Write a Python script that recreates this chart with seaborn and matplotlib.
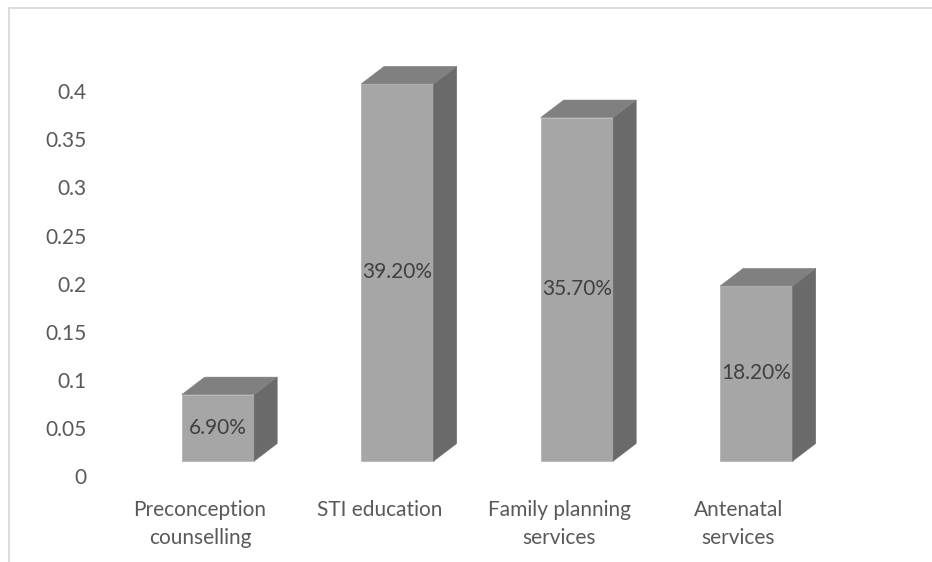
import matplotlib
matplotlib.use("Agg")
import matplotlib.pyplot as plt
from matplotlib.patches import Polygon
from matplotlib.lines import Line2D
import seaborn as sns
import pandas as pd

# Data
categories = ["Preconception\ncounselling", "STI education",
              "Family planning\nservices", "Antenatal\nservices"]
shares = [0.069, 0.392, 0.357, 0.182]
y_ticks = [0, 0.05, 0.1, 0.15, 0.2, 0.25, 0.3, 0.35, 0.4]
y_tick_labels = ["0", "0.05", "0.1", "0.15", "0.2", "0.25", "0.3", "0.35", "0.4"]

df = pd.DataFrame({"category": categories, "share": shares})

sns.set_style("white")
plt.rcParams["font.family"] = ["Lato", "DejaVu Sans"]

FRONT = "#a6a6a6"
TOP = "#808080"
SIDE = "#6a6a6a"
TEXT = "#595959"
FS = 15

fig = plt.figure(figsize=(9.32, 5.62), dpi=100)
ax = fig.add_axes([0.1183, 0.1530, 0.8089, 0.7703])

sns.barplot(data=df, x="category", y="share", color=FRONT, saturation=1,
            width=0.404, ax=ax, edgecolor="#b4b4b4", linewidth=0.6)

floor = 0.0156   # bars rest on a raised floor
dx = 0.128       # depth offset in category units
dy = 0.0182      # depth offset in data units

for patch, val in zip(ax.patches, shares):
    patch.set_y(floor)
    x0 = patch.get_x()
    x1 = x0 + patch.get_width()
    top = floor + val
    side = Polygon([(x1, floor), (x1, top), (x1 + dx, top + dy), (x1 + dx, floor + dy)],
                   closed=True, facecolor=SIDE, edgecolor=SIDE, linewidth=0.4, zorder=2)
    lid = Polygon([(x0, top), (x0 + dx, top + dy), (x1 + dx, top + dy), (x1, top)],
                  closed=True, facecolor=TOP, edgecolor=TOP, linewidth=0.4, zorder=2)
    ax.add_patch(side)
    ax.add_patch(lid)
    ax.text((x0 + x1) / 2, floor + val / 2, f"{val * 100:.2f}%",
            ha="center", va="center", fontsize=FS, color="#404040", zorder=3)

ax.set_xlim(-0.6, 3.6)
ax.set_ylim(0, 0.45)
ax.set_yticks(y_ticks)
ax.set_yticklabels(y_tick_labels)
ax.set_xticks([i - 0.1 for i in range(len(categories))])
ax.set_xticklabels(categories, linespacing=1.5)
ax.set_xlabel("")
ax.set_ylabel("")
ax.tick_params(axis="y", length=0, pad=17, labelsize=FS, labelcolor=TEXT)
ax.tick_params(axis="x", length=0, pad=17, labelsize=FS, labelcolor=TEXT)
for s in ax.spines.values():
    s.set_visible(False)

# Chart-area border
W, H = 932, 562
fig.add_artist(Line2D([8.5 / W, 1.0], [1 - 7.5 / H, 1 - 7.5 / H],
                      transform=fig.transFigure, color="#d9d9d9", linewidth=1.3))
fig.add_artist(Line2D([8.5 / W, 8.5 / W], [0.0, 1 - 7.5 / H],
                      transform=fig.transFigure, color="#d9d9d9", linewidth=1.3))

fig.savefig("out.png", dpi=100, facecolor="white")
